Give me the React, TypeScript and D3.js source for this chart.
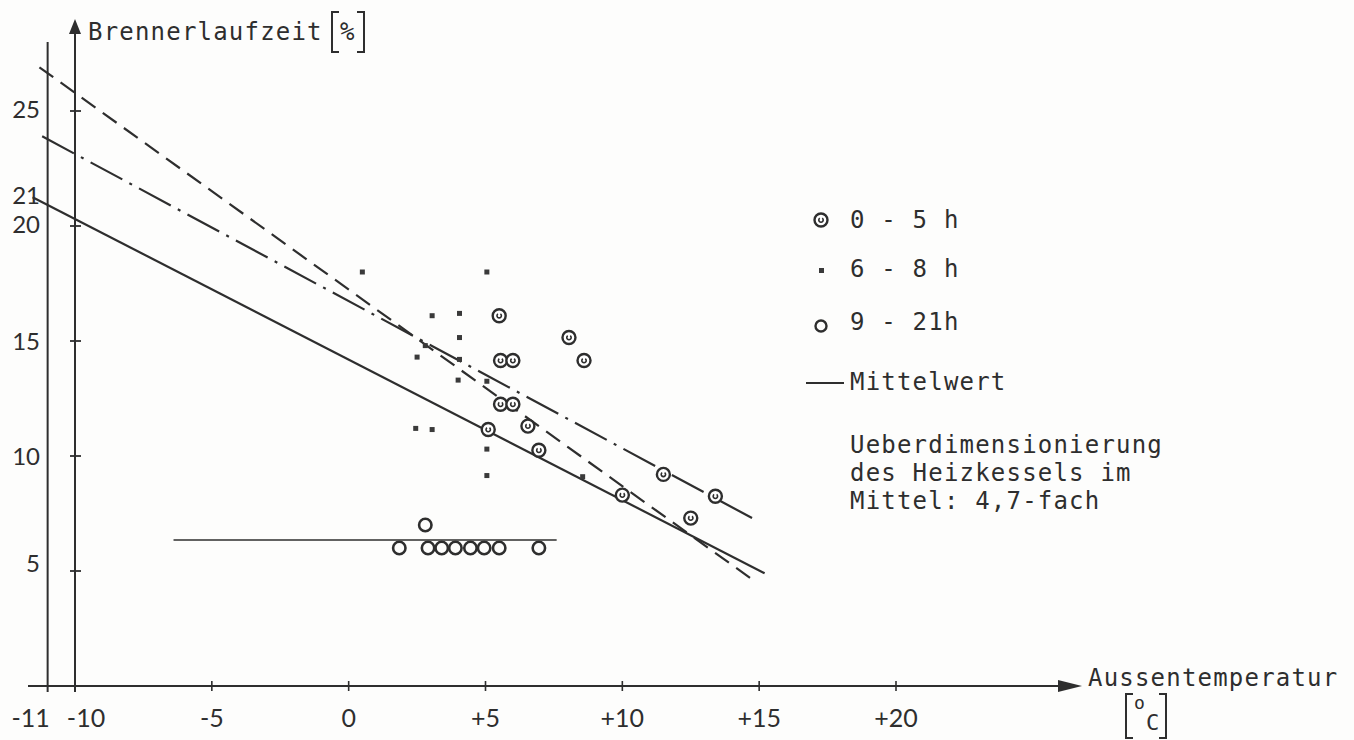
import React from 'react'
import * as d3 from 'd3'

// Legende
const legendLabels = ['0 - 5 h', '6 - 8 h', '9 - 21h']
const meanLabel = 'Mittelwert'
const noteLines = ['Ueberdimensionierung', 'des Heizkessels im', 'Mittel: 4,7-fach']

// Achsen
const xTicks = [-11, -10, -5, 0, 5, 10, 15, 20]
const xTickLabels = ['-11', '-10', '-5', '0', '+5', '+10', '+15', '+20']
const yTicks = [5, 10, 15, 20, 25]
const yLabelValues = [5, 10, 15, 20, 21, 25]

// 0 - 5 h
const shortTemp = [5.5, 8.05, 8.6, 5.55, 6.0, 5.55, 6.0, 5.1, 6.55, 6.95, 10.0, 11.5, 13.4, 12.5]
const shortRun = [16.1, 15.15, 14.15, 14.15, 14.15, 12.25, 12.25, 11.15, 11.3, 10.25, 8.3, 9.2, 8.25, 7.3]

// 6 - 8 h
const midTemp = [0.5, 5.05, 3.05, 4.05, 4.05, 2.5, 4.05, 4.0, 5.05, 2.45, 3.05, 5.05, 5.05, 8.55, 2.8]
const midRun = [18.0, 18.0, 16.1, 16.2, 15.15, 14.3, 14.2, 13.3, 13.25, 11.2, 11.15, 10.3, 9.15, 9.1, 14.8]

// 9 - 21 h
const longTemp = [2.8, 1.85, 2.9, 3.4, 3.9, 4.45, 4.95, 5.5, 6.95]
const longRun = [7.0, 6.0, 6.0, 6.0, 6.0, 6.0, 6.0, 6.0, 6.0]

// Geraden (Anfang, Ende)
const meanLineTemp = [-11.55, 15.2]
const meanLineRun = [21.25, 4.9]
const dashLineTemp = [-11.3, 14.9]
const dashLineRun = [26.9, 4.5]
const dashDotTemp = [-11.2, 14.9]
const dashDotRun = [23.9, 7.2]
const flatLineTemp = [-6.4, 7.6]
const flatLineRun = [6.35, 6.35]

const ink = '#2e2e2e'
const mono = '"DejaVu Sans Mono", monospace'
const sans = 'Lato, "Open Sans", sans-serif'

const x = d3.scaleLinear().domain([-10, 20]).range([75, 896])
const y = d3.scaleLinear().domain([0, 25]).range([686, 111])

function seg(temps: number[], runs: number[]) {
  const pts: [number, number][] = temps.map((t, i) => [x(t), y(runs[i])])
  return d3.line()(pts) || ''
}

function Bracket({ x0, y0, y1, dir }: { x0: number; y0: number; y1: number; dir: number }) {
  const w = 7 * dir
  return (
    <path
      d={`M${x0 + w},${y0} H${x0} V${y1} H${x0 + w}`}
      fill="none"
      stroke={ink}
      strokeWidth={2}
    />
  )
}

function DotCircle({ cx, cy }: { cx: number; cy: number }) {
  return (
    <g>
      <circle cx={cx} cy={cy} r={6.5} fill="#fff" stroke={ink} strokeWidth={2.4} />
      <path
        d={d3.arc()({ innerRadius: 2.2, outerRadius: 2.2, startAngle: 0.6, endAngle: Math.PI * 2 - 0.6 }) || ''}
        transform={`translate(${cx},${cy})`}
        fill="none"
        stroke={ink}
        strokeWidth={1.6}
      />
    </g>
  )
}

// kleine Verschiebungen der Y-Beschriftung wie im Original
function yLabelShift(t: number) {
  if (t === 5) return -8
  if (t === 20) return -2
  if (t === 21) return -8
  if (t === 25) return -2
  return 0
}

export default function App() {
  const yAxisX = x(-10)
  const yAxis2X = x(-11)
  const textStyle = { fontFamily: mono, fontSize: 24, letterSpacing: 1.2, fill: ink }
  const tickStyle = { fontFamily: sans, fontSize: 25, fill: ink }
  return (
    <svg
      width={1354}
      height={740}
      style={{ position: 'absolute', left: 0, top: 0, background: '#fdfdfc' }}
    >
      {/* x axis */}
      <line x1={28} x2={1062} y1={y(0)} y2={y(0)} stroke={ink} strokeWidth={2} />
      <path d={`M1058,${y(0) - 6} L1082,${y(0)} L1058,${y(0) + 6} Z`} fill={ink} />
      {xTicks
        .filter((t) => t > -10)
        .map((t) => (
          <line key={t} x1={x(t)} x2={x(t)} y1={y(0) - 5} y2={y(0) + 5} stroke={ink} strokeWidth={1.6} />
        ))}
      {xTicks.map((t, i) => (
        <text
          key={t}
          x={x(t) + (t === -11 ? -17 : t === -10 ? 11 : 0)}
          y={727}
          textAnchor="middle"
          style={tickStyle}
        >
          {xTickLabels[i]}
        </text>
      ))}

      {/* y axes */}
      <line x1={yAxis2X} x2={yAxis2X} y1={42} y2={692} stroke={ink} strokeWidth={2} />
      <line x1={yAxisX} x2={yAxisX} y1={32} y2={692} stroke={ink} strokeWidth={2} />
      <path d={`M${yAxisX - 6},34 L${yAxisX},19 L${yAxisX + 6},34 Z`} fill={ink} />
      {yTicks.map((t) => (
        <line key={t} x1={yAxisX - 5} x2={yAxisX + 6} y1={y(t)} y2={y(t)} stroke={ink} strokeWidth={1.8} />
      ))}
      {yLabelValues.map((t) => (
        <text
          key={t}
          x={40}
          y={y(t) + 9 + yLabelShift(t)}
          textAnchor="end"
          style={{ ...tickStyle, fontSize: 24 }}
        >
          {t}
        </text>
      ))}

      {/* axis titles */}
      <text x={88} y={40} style={textStyle}>
        Brennerlaufzeit
      </text>
      <Bracket x0={332} y0={12} y1={52} dir={1} />
      <text x={340} y={40} style={{ ...textStyle, letterSpacing: 0 }}>
        %
      </text>
      <Bracket x0={364} y0={12} y1={52} dir={-1} />

      <text x={1088} y={686} style={textStyle}>
        Aussentemperatur
      </text>
      <Bracket x0={1126} y0={694} y1={738} dir={1} />
      <text x={1134} y={709} style={{ ...textStyle, fontSize: 18, letterSpacing: 0 }}>
        o
      </text>
      <text x={1146} y={730} style={{ ...textStyle, fontSize: 22, letterSpacing: 0 }}>
        C
      </text>
      <Bracket x0={1166} y0={694} y1={738} dir={-1} />

      {/* lines */}
      <path d={seg(dashLineTemp, dashLineRun)} stroke={ink} strokeWidth={2.2} strokeDasharray="17,9" fill="none" />
      <path
        d={seg(dashDotTemp, dashDotRun)}
        stroke={ink}
        strokeWidth={2.2}
        strokeDasharray="36,8,3,8"
        fill="none"
      />
      <path d={seg(meanLineTemp, meanLineRun)} stroke={ink} strokeWidth={2.2} fill="none" />
      <path d={seg(flatLineTemp, flatLineRun)} stroke={ink} strokeWidth={1.6} fill="none" />

      {/* points */}
      {midTemp.map((t, i) => (
        <rect key={i} x={x(t) - 2.5} y={y(midRun[i]) - 2.5} width={5} height={5} fill="#3a3a3a" />
      ))}
      {longTemp.map((t, i) => (
        <circle key={i} cx={x(t)} cy={y(longRun[i])} r={6.2} fill="none" stroke={ink} strokeWidth={2.6} />
      ))}
      {shortTemp.map((t, i) => (
        <DotCircle key={i} cx={x(t)} cy={y(shortRun[i])} />
      ))}

      {/* legend */}
      <DotCircle cx={821} cy={220} />
      <text x={850} y={228} style={textStyle}>
        {legendLabels[0]}
      </text>
      <rect x={819} y={268} width={5} height={5} fill="#3a3a3a" />
      <text x={850} y={277} style={textStyle}>
        {legendLabels[1]}
      </text>
      <circle cx={821} cy={326} r={5.5} fill="none" stroke={ink} strokeWidth={2.4} />
      <text x={850} y={330} style={textStyle}>
        {legendLabels[2]}
      </text>
      <line x1={806} x2={844} y1={383} y2={383} stroke={ink} strokeWidth={2} />
      <text x={850} y={390} style={textStyle}>
        {meanLabel}
      </text>
      {noteLines.map((s, i) => (
        <text key={s} x={850} y={453 + i * 28} style={textStyle}>
          {s}
        </text>
      ))}
    </svg>
  )
}
